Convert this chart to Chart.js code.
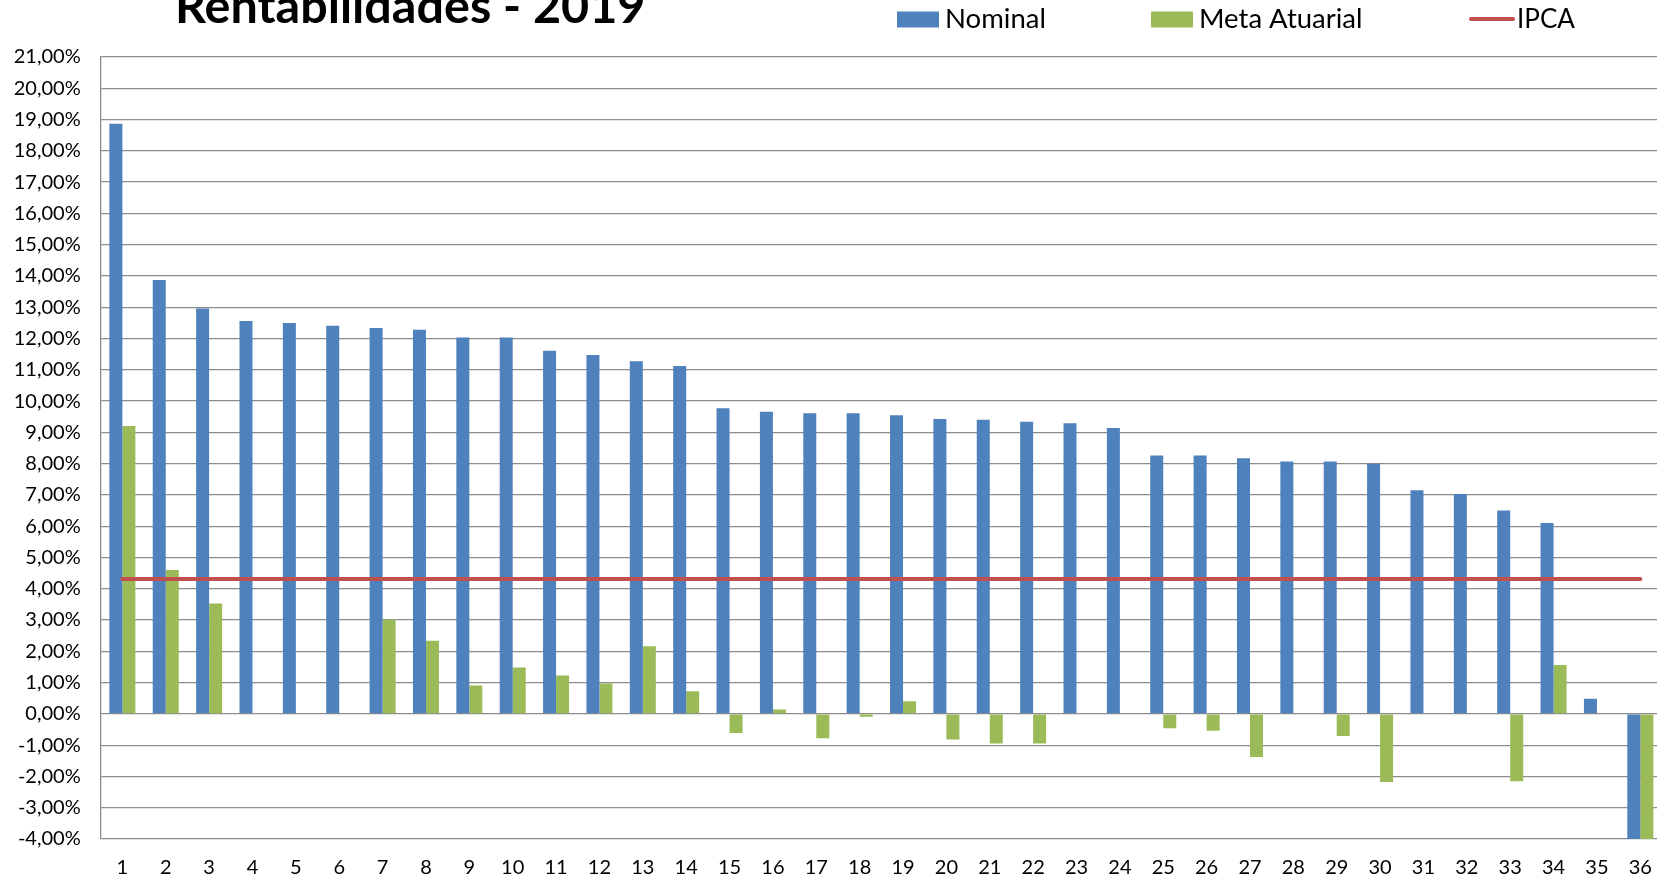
<!DOCTYPE html>
<html>
<head>
<meta charset="utf-8">
<title>Rentabilidades - 2019</title>
<script src="https://cdn.jsdelivr.net/npm/chart.js@4.4.1/dist/chart.umd.min.js"></script>
<style>
html, body { margin: 0; padding: 0; background: #fff; overflow: hidden; }
#wrap { position: absolute; left: 0; top: 0; width: 1662px; height: 878px; }
</style>
</head>
<body>
<div id="wrap"><canvas id="rentChart"></canvas></div>
<script>
// Dados
const chartTitle = 'Rentabilidades - 2019';

const categories = ['1', '2', '3', '4', '5', '6', '7', '8', '9', '10', '11', '12',
    '13', '14', '15', '16', '17', '18', '19', '20', '21', '22', '23', '24',
    '25', '26', '27', '28', '29', '30', '31', '32', '33', '34', '35', '36'];

const nominal = [18.87, 13.87, 12.96, 12.56, 12.50, 12.41, 12.34, 12.28, 12.03, 12.03, 11.61, 11.47,
    11.27, 11.12, 9.77, 9.66, 9.61, 9.61, 9.55, 9.43, 9.40, 9.34, 9.29, 9.14,
    8.26, 8.26, 8.17, 8.07, 8.07, 8.00, 7.15, 7.03, 6.50, 6.10, 0.48, -4.50];

const metaAtuarial = [9.20, 4.60, 3.53, 0, 0, 0, 3.02, 2.34, 0.91, 1.48, 1.23, 0.97,
    2.16, 0.72, -0.61, 0.14, -0.78, -0.09, 0.40, -0.82, -0.95, -0.95, 0, -0.02,
    -0.46, -0.54, -1.38, 0, -0.71, -2.18, 0, 0, -2.15, 1.56, 0, -4.50];

const ipca = [4.31, 4.31, 4.31, 4.31, 4.31, 4.31, 4.31, 4.31, 4.31, 4.31, 4.31, 4.31,
    4.31, 4.31, 4.31, 4.31, 4.31, 4.31, 4.31, 4.31, 4.31, 4.31, 4.31, 4.31,
    4.31, 4.31, 4.31, 4.31, 4.31, 4.31, 4.31, 4.31, 4.31, 4.31, 4.31, 4.31];

const seriesNames = ['Nominal', 'Meta Atuarial', 'IPCA'];
const seriesColors = ['#4F81BD', '#9BBB59', '#C0504D'];

const gridColor = '#8c8c8c';
const fontFamily = 'Lato, "Liberation Sans", sans-serif';

// titulo + legenda desenhados no canvas
const legendX = [897, 1151, 1469];

const headerPlugin = {
    id: 'header',
    afterDraw(chart) {
        const ctx = chart.ctx;
        ctx.save();
        ctx.fillStyle = '#000';
        ctx.textBaseline = 'alphabetic';
        ctx.font = 'bold 48.5px ' + fontFamily;
        ctx.fillText(chartTitle, 175, 23);

        for (let i = 0; i < seriesNames.length; i++) {
            let x = legendX[i];
            if (i < 2) {
                ctx.fillStyle = seriesColors[i];
                ctx.fillRect(x, 11.5, 42, 16);
            } else {
                ctx.strokeStyle = seriesColors[i];
                ctx.lineWidth = 4;
                ctx.lineCap = 'round';
                ctx.beginPath();
                ctx.moveTo(x + 2, 19);
                ctx.lineTo(x + 44, 19);
                ctx.stroke();
            }
            ctx.fillStyle = '#000';
            ctx.font = (i < 2 ? '27.5px ' : '26px ') + fontFamily;
            ctx.fillText(seriesNames[i], x + 48, 27.7);
        }
        ctx.restore();
    }
};

var ctx = document.getElementById('rentChart').getContext('2d');

var rentChart = new Chart(ctx, {
    type: 'bar',
    data: {
        labels: categories,
        datasets: [{
            type: 'line',
            label: seriesNames[2],
            data: ipca,
            borderColor: seriesColors[2],
            backgroundColor: seriesColors[2],
            borderWidth: 4,
            borderCapStyle: 'round',
            pointRadius: 0,
            order: 0
        }, {
            label: seriesNames[0],
            data: nominal,
            backgroundColor: seriesColors[0],
            borderWidth: 0,
            order: 1
        }, {
            label: seriesNames[1],
            data: metaAtuarial,
            backgroundColor: seriesColors[1],
            borderWidth: 0,
            order: 1
        }]
    },
    options: {
        responsive: true,
        maintainAspectRatio: false,
        animation: false,
        categoryPercentage: 0.6,
        barPercentage: 1.0,
        layout: {
            padding: { top: 57, left: 0, right: 0, bottom: 0 }
        },
        plugins: {
            legend: { display: false },
            title: { display: false },
            tooltip: { enabled: false }
        },
        scales: {
            x: {
                grid: { display: false },
                border: { display: false },
                ticks: {
                    color: '#000',
                    font: { family: fontFamily, size: 20 },
                    padding: 9,
                    maxRotation: 0,
                    autoSkip: false
                },
                afterFit: function (axis) { axis.height = 39; }
            },
            y: {
                min: -4,
                max: 21,
                grid: { color: gridColor, lineWidth: 1.3, drawTicks: false },
                border: { color: gridColor, width: 1.3 },
                ticks: {
                    stepSize: 1,
                    color: '#000',
                    font: { family: fontFamily, size: 20 },
                    padding: 20,
                    callback: function (v) { return v.toFixed(2).replace('.', ',') + '%'; }
                },
                afterFit: function (axis) { axis.width = 100.7; }
            }
        }
    },
    plugins: [headerPlugin]
});
</script>
</body>
</html>
